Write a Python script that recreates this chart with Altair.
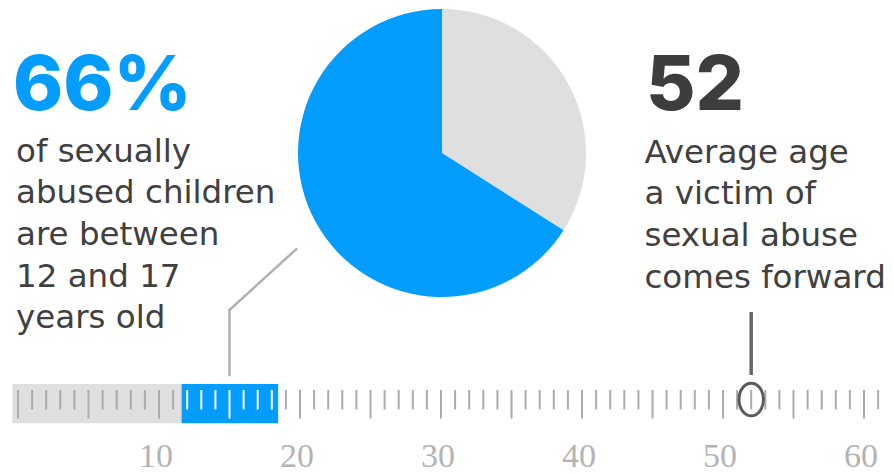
import altair as alt
import pandas as pd

# ---- data ----
slice_labels = ["Other ages", "12 to 17"]
slice_values = [34, 66]

tick_ages = list(range(0, 63))
label_ages = [10, 20, 30, 40, 50, 60]

band_names = ["Under 12", "12 to 17"]
band_starts = [-0.4, 11.6]
band_ends = [11.6, 18.45]

average_age = [52]
range_marker_age = [15]
pie_link_age = [19.8]

big_left = "66%"
left_lines = ["of sexually", "abused children", "are between", "12 and 17", "years old"]
big_right = "52"
right_lines = ["Average age", "a victim of", "sexual abuse", "comes forward"]

# ---- styles ----
BLUE = "#039cff"
LIGHT = "#dfdfdf"
TICK = "#ababab"
TEXT = "#404040"
W, H = 878, 466
PX_PER_YEAR = 14.1
X0 = 10  # pixel of age 0

xscale = alt.Scale(domain=[-X0 / PX_PER_YEAR, (W - X0) / PX_PER_YEAR], nice=False, zero=False)

pie_df = pd.DataFrame({"group": slice_labels, "value": slice_values,
                       "idx": list(range(len(slice_labels)))})
pie = alt.Chart(pie_df).mark_arc(radius=144).encode(
    theta=alt.Theta("value:Q", stack=True),
    color=alt.Color("group:N", scale=alt.Scale(domain=slice_labels, range=[LIGHT, BLUE]), legend=None),
    order=alt.Order("idx:Q"),
    x=alt.value(434),
    y=alt.value(145),
)

band_df = pd.DataFrame({"name": band_names, "start": band_starts, "end": band_ends})
bands = alt.Chart(band_df).mark_rect().encode(
    x=alt.X("start:Q", scale=xscale, axis=None),
    x2="end:Q",
    y=alt.value(376),
    y2=alt.value(415.3),
    color=alt.condition(alt.datum.name == "12 to 17", alt.value(BLUE), alt.value(LIGHT)),
)

tick_df = pd.DataFrame({"age": tick_ages})
in_blue = (alt.datum.age >= band_starts[1]) & (alt.datum.age <= band_ends[1])
minor = alt.Chart(tick_df).transform_filter("datum.age % 5 != 0").mark_rule(strokeWidth=2).encode(
    x=alt.X("age:Q", scale=xscale, axis=None),
    y=alt.value(382),
    y2=alt.value(401.5),
    color=alt.condition(in_blue, alt.value("white"), alt.value(TICK)),
)
major = alt.Chart(tick_df).transform_filter("datum.age % 5 == 0").mark_rule(strokeWidth=2).encode(
    x=alt.X("age:Q", scale=xscale, axis=None),
    y=alt.value(382),
    y2=alt.value(410.5),
    color=alt.condition(in_blue, alt.value("white"), alt.value(TICK)),
)

lab_df = pd.DataFrame({"age": label_ages})
labels = alt.Chart(lab_df).mark_text(
    font="Liberation Serif", fontSize=34, color="#b3b3b3", baseline="alphabetic", align="center", dx=-3
).encode(
    x=alt.X("age:Q", scale=xscale, axis=None),
    y=alt.value(458.5),
    text=alt.Text("age:Q"),
)

diag_df = pd.DataFrame({"a": pie_link_age, "b": range_marker_age})
diag = alt.Chart(diag_df).mark_rule(strokeWidth=2.5, color="#b0b0b0").encode(
    x=alt.X("a:Q", scale=xscale, axis=None),
    x2="b:Q",
    y=alt.value(240.3),
    y2=alt.value(302),
)
vert_df = pd.DataFrame({"age": range_marker_age})
vert = alt.Chart(vert_df).mark_rule(strokeWidth=2.5, color="#b0b0b0", strokeCap="square").encode(
    x=alt.X("age:Q", scale=xscale, axis=None),
    y=alt.value(302),
    y2=alt.value(367),
)

avg_df = pd.DataFrame({"age": average_age})
avg_line = alt.Chart(avg_df).mark_rule(strokeWidth=3.5, color="#666666").encode(
    x=alt.X("age:Q", scale=xscale, axis=None),
    y=alt.value(304),
    y2=alt.value(367),
)
avg_ring = alt.Chart(avg_df).mark_point(
    shape="M0,-1 A0.75,1 0 1,1 0,1 A0.75,1 0 1,1 0,-1 Z",
    size=1063, filled=False, strokeWidth=3, color="#5a5a5a", opacity=1,
).encode(
    x=alt.X("age:Q", scale=xscale, axis=None),
    y=alt.value(391.5),
)

txt_df = pd.DataFrame({"big_l": [big_left], "big_r": [big_right],
                       "body_l": ["\n".join(left_lines)], "body_r": ["\n".join(right_lines)]})
t_big_l = alt.Chart(txt_df).mark_text(
    font="Inter", fontWeight=800, fontSize=76, color=BLUE, align="left", baseline="alphabetic"
).encode(x=alt.value(5), y=alt.value(102), text="big_l:N")
t_big_r = alt.Chart(txt_df).mark_text(
    font="Inter", fontWeight=800, fontSize=76, color="#3d3d3d", align="left", baseline="alphabetic"
).encode(x=alt.value(638), y=alt.value(102), text="big_r:N")
t_body_l = alt.Chart(txt_df).mark_text(
    font="DejaVu Sans", fontSize=32.5, color=TEXT, align="left", baseline="alphabetic",
    lineBreak="\n", lineHeight=41.7
).encode(x=alt.value(8), y=alt.value(153.5), text="body_l:N")
t_body_r = alt.Chart(txt_df).mark_text(
    font="DejaVu Sans", fontSize=32.5, color=TEXT, align="left", baseline="alphabetic",
    lineBreak="\n", lineHeight=41.7
).encode(x=alt.value(636.5), y=alt.value(154.5), text="body_r:N")

chart = alt.layer(
    pie, bands, minor, major, labels, diag, vert, avg_line, avg_ring,
    t_big_l, t_big_r, t_body_l, t_body_r
).properties(
    width=W, height=H, padding=0, autosize="none", background="white"
).configure_view(stroke=None)

chart.save("out.html", embed_options={"renderer": "svg", "actions": False})
